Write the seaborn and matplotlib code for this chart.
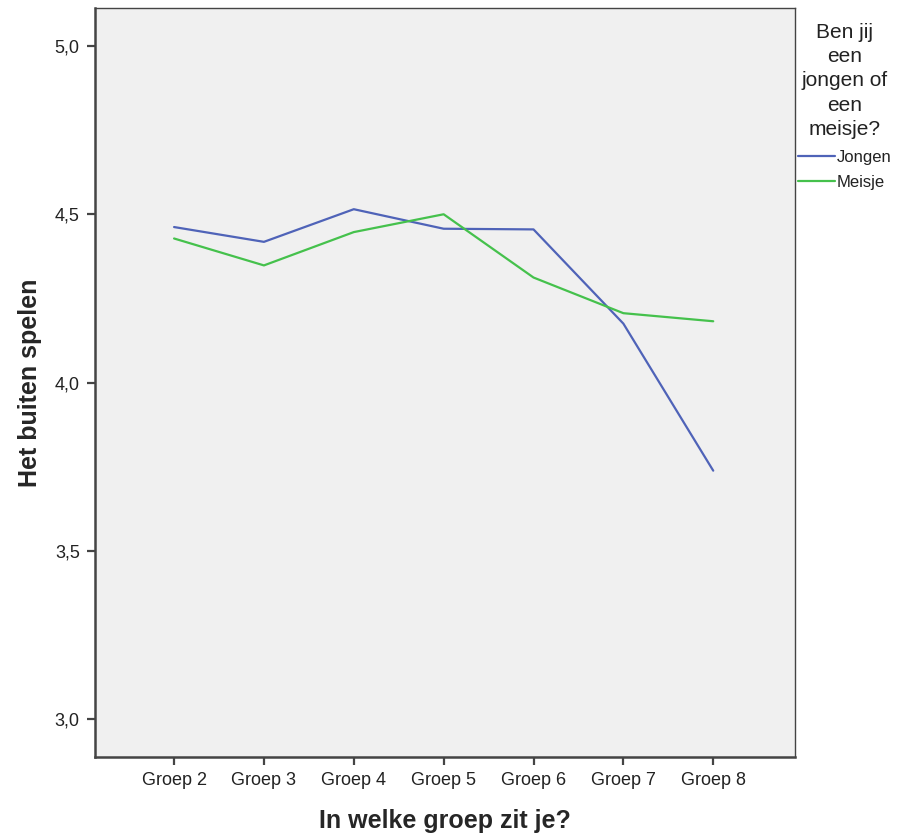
import numpy as np
import pandas as pd
import matplotlib
matplotlib.use("Agg")
import matplotlib.pyplot as plt
import seaborn as sns

# data
groepen = ["Groep 2", "Groep 3", "Groep 4", "Groep 5", "Groep 6", "Groep 7", "Groep 8"]
jongen = [4.462, 4.418, 4.515, 4.457, 4.455, 4.175, 3.738]
meisje = [4.428, 4.348, 4.447, 4.500, 4.312, 4.206, 4.182]
geslachten = ["Jongen", "Meisje"]
y_ticks = [3.0, 3.5, 4.0, 4.5, 5.0]
y_tick_labels = ["3,0", "3,5", "4,0", "4,5", "5,0"]

df = pd.DataFrame({
    "groep": groepen * 2,
    "geslacht": [geslachten[0]] * len(groepen) + [geslachten[1]] * len(groepen),
    "score": jongen + meisje,
})

sns.set_style("white")
plt.rcParams["font.family"] = ["Liberation Sans", "DejaVu Sans"]

fig = plt.figure(figsize=(8.97, 8.35), dpi=100)
ax = fig.add_axes([95 / 897, 1 - 757 / 835, 700 / 897, 749 / 835])
ax.set_facecolor("#f0f0f0")

sns.lineplot(data=df, x="groep", y="score", hue="geslacht",
             palette={"Jongen": "#4f63b8", "Meisje": "#45c14c"},
             linewidth=1.6, ax=ax, sort=False)

ax.set_xlim(-0.88, 6.91)
ax.set_ylim(2.887, 5.113)
ax.set_yticks(y_ticks)
ax.set_yticklabels(y_tick_labels)

for side in ["left", "bottom"]:
    ax.spines[side].set_linewidth(1.8)
    ax.spines[side].set_color("#444444")
for side in ["top", "right"]:
    ax.spines[side].set_linewidth(1.0)
    ax.spines[side].set_color("#444444")

ax.tick_params(axis="both", direction="out", length=6, width=1.6, color="#444444",
               labelsize=13, labelcolor="#222222", left=True, bottom=True, pad=5)

ax.set_xlabel("In welke groep zit je?", fontsize=18, fontweight="bold", labelpad=14)
ax.set_ylabel("Het buiten spelen", fontsize=18, fontweight="bold", labelpad=9)

leg = ax.legend(title="Ben jij\neen\njongen of\neen\nmeisje?", loc="upper left",
                bbox_to_anchor=(1.0, 0.985), frameon=False, fontsize=12,
                title_fontsize=15, handlelength=2.2, handletextpad=0.1,
                labelspacing=0.62, borderaxespad=0.0, borderpad=0.2)
leg.get_title().set_multialignment("center")
leg.get_title().set_color("#222222")
leg.get_title().set_linespacing(1.36)
for t in leg.get_texts():
    t.set_color("#222222")

plt.savefig("out.png", dpi=100)
